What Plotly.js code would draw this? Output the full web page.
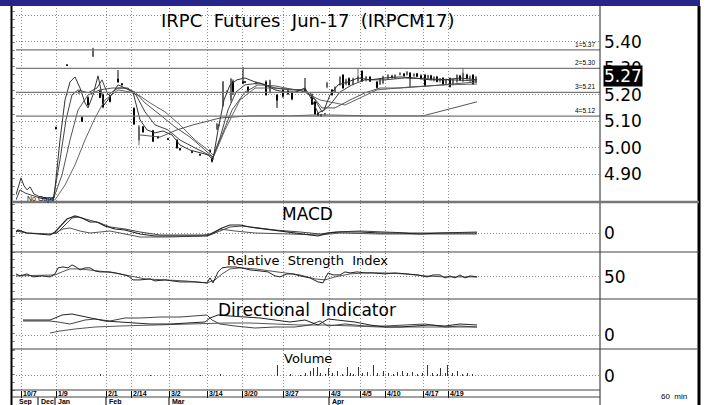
<!DOCTYPE html>
<html><head><meta charset="utf-8">
<script src="https://cdn.plot.ly/plotly-3.0.1.min.js"></script>
<style>html,body{margin:0;padding:0;background:#fff;}#chart{width:707px;height:405px;}</style>
</head><body><div id="chart"></div>
<script>
// ---------- DATA ----------
const chartTitle = 'IRPC  Futures  Jun-17  (IRPCM17)';
const dateTickPos = [2.5, 20, 45, 57.5, 76.5, 95.5, 113, 133.5, 156.5, 172, 184.5, 203.5, 216];
const dateTickText = ['10/7','1/9','2/1','2/14','3/2','3/14','3/20','3/27','4/3','4/5','4/10','4/17','4/19'];
const monthPos = [0, 11, 19.5, 45, 76.5, 156.5];
const monthText = ['Sep','Dec','Jan','Feb','Mar','Apr'];
const priceTicks = [4.9, 5.0, 5.1, 5.2, 5.3, 5.4, 5.5];
const priceTickText = ['4.90','5.00','5.10','5.20','5.30','5.40',''];
const levelValues = [5.37, 5.30, 5.21, 5.12];
const levelLabels = ['1=5.37','2=5.30','3=5.21','4=5.12'];
const lastPrice = 5.27;

const candleX = [20,25.5,31.5,33,36,38.5,42,43.5,47,51,53,59,61.5,63.5,68.5,71,76,80.5,82,88,92,97,98,100.5,101.5,103.5,105.5,107.5,108.5,113.5,114.5,116,120,125,127,130.5,133.5,136,138,141,144.5,148,149.5,151,152.5,154.5,155.5,158,159.5,162,163.5,165,166.5,168.5,171,173,175,177,180.5,182,183.5,186,188,189.5,192,194,195.5,197,199,200.5,202.5,204.5,206,207.5,209,210.5,212,213.5,215,217,218.5,220.5,222,223.5,225.5,227,228.5,230];
const candleOpen = [5.078,5.313,5.213,5.115,5.190,5.345,5.215,5.200,5.198,5.260,5.242,5.150,5.030,5.080,5.065,5.042,5.035,5.030,4.998,4.986,4.976,4.990,4.962,5.070,5.085,5.160,5.212,5.180,5.250,5.250,5.250,5.230,5.242,5.249,5.210,5.200,5.219,5.215,5.210,5.212,5.222,5.200,5.174,5.130,5.125,5.128,5.230,5.219,5.210,5.238,5.275,5.240,5.262,5.240,5.252,5.290,5.255,5.268,5.249,5.240,5.245,5.262,5.270,5.262,5.276,5.280,5.276,5.283,5.272,5.280,5.272,5.275,5.262,5.272,5.256,5.268,5.252,5.264,5.242,5.262,5.240,5.250,5.272,5.252,5.275,5.262,5.275,5.248];
const candleHigh = [5.080,5.316,5.215,5.120,5.195,5.378,5.220,5.205,5.200,5.294,5.245,5.152,5.087,5.082,5.068,5.045,5.038,5.032,5.000,4.988,4.978,4.995,4.965,5.095,5.090,5.252,5.218,5.264,5.258,5.306,5.252,5.232,5.250,5.255,5.257,5.202,5.222,5.218,5.212,5.222,5.264,5.205,5.176,5.132,5.127,5.132,5.250,5.222,5.232,5.270,5.278,5.262,5.266,5.265,5.302,5.292,5.272,5.270,5.252,5.262,5.272,5.278,5.276,5.278,5.285,5.282,5.290,5.285,5.282,5.283,5.278,5.278,5.276,5.276,5.270,5.272,5.264,5.266,5.262,5.266,5.262,5.278,5.276,5.302,5.280,5.274,5.278,5.272];
const candleLow = [5.070,5.310,5.205,5.098,5.160,5.343,5.188,5.150,5.172,5.245,5.236,5.087,5.010,5.058,5.022,5.036,5.030,4.998,4.990,4.980,4.970,4.983,4.945,5.068,5.080,5.155,5.205,5.170,5.200,5.240,5.245,5.211,5.238,5.198,5.205,5.151,5.189,5.200,5.180,5.210,5.211,5.162,5.125,5.120,5.118,5.120,5.225,5.198,5.208,5.235,5.224,5.236,5.236,5.236,5.248,5.250,5.250,5.249,5.224,5.238,5.240,5.260,5.262,5.260,5.274,5.270,5.274,5.230,5.268,5.268,5.258,5.230,5.258,5.255,5.250,5.248,5.246,5.236,5.238,5.228,5.236,5.245,5.252,5.248,5.258,5.246,5.238,5.244];
const candleClose = [5.072,5.312,5.208,5.100,5.162,5.375,5.190,5.155,5.175,5.250,5.238,5.090,5.080,5.060,5.025,5.038,5.032,5.000,4.993,4.984,4.974,4.985,4.950,5.090,5.087,5.250,5.215,5.260,5.210,5.245,5.248,5.214,5.248,5.200,5.255,5.180,5.195,5.205,5.185,5.220,5.215,5.165,5.128,5.122,5.120,5.130,5.245,5.200,5.230,5.268,5.226,5.258,5.238,5.262,5.270,5.252,5.268,5.252,5.228,5.258,5.270,5.275,5.265,5.275,5.283,5.272,5.287,5.262,5.278,5.270,5.262,5.235,5.274,5.258,5.268,5.250,5.262,5.240,5.258,5.232,5.258,5.275,5.256,5.282,5.262,5.270,5.242,5.268];

const maFastX = [0,1.5,2.5,4,5.5,7,9,12,16,19,22,24.5,27,29.5,32,34.5,36,38.5,41,42.5,44,47,51,54.5,58.5,62,65.5,69.5,73.5,78,82,87,92,96,98.5,101,104,107,110.5,114.5,119.5,124.5,129.5,134.5,139.5,144.5,148,151,154,157,161,166,171,177,184.5,192,199.5,207,214.5,222,230.5];
const maFastY = [4.823,4.860,4.887,4.857,4.842,4.853,4.826,4.815,4.811,4.811,5.030,5.181,5.249,5.268,5.226,5.170,5.151,5.200,5.272,5.219,5.162,5.192,5.238,5.226,5.211,5.106,5.068,5.057,5.064,5.049,5.011,4.992,4.981,4.974,4.955,5.068,5.181,5.238,5.257,5.264,5.249,5.238,5.219,5.211,5.211,5.226,5.181,5.132,5.143,5.200,5.238,5.249,5.264,5.257,5.264,5.268,5.264,5.257,5.257,5.264,5.257];
const maMidX = [0,2,4.5,7,12,18.5,22,25,28,31,36,40.5,43,46,51,56,60,64.5,69.5,76,82,89.5,94.5,98.5,102,106,110,114.5,122,129.5,137,144.5,149.5,153,157,162,168,174.5,184.5,194.5,207,219.5,230.5];
const maMidY = [4.804,4.842,4.830,4.823,4.811,4.804,4.955,5.106,5.200,5.219,5.208,5.226,5.257,5.200,5.226,5.226,5.200,5.136,5.087,5.068,5.030,5.000,4.981,4.966,5.038,5.143,5.211,5.238,5.245,5.226,5.219,5.219,5.181,5.136,5.162,5.211,5.238,5.257,5.257,5.264,5.260,5.257,5.253];
const maSlowX = [18.5,23,27,31,36,42,48,54.5,59.5,64.5,72,79.5,87,94.5,98.5,103,108,114.5,121,129.5,139.5,147,153,159.5,167,174.5,182,192,207,219.5,230.5];
const maSlowY = [4.804,4.898,5.030,5.143,5.200,5.219,5.226,5.226,5.211,5.170,5.125,5.079,5.041,4.992,4.966,5.049,5.143,5.211,5.238,5.234,5.219,5.208,5.151,5.151,5.181,5.208,5.226,5.226,5.234,5.241,5.249];
const maLongX = [19.5,24.5,29.5,34.5,39.5,44.5,51,57,62,67,74.5,82,89.5,96,99,104.5,112,119.5,129.5,142,152,164.5,180.5,197,214.5,230.5];
const maLongY = [4.804,4.860,4.936,5.030,5.113,5.181,5.219,5.211,5.196,5.170,5.136,5.087,5.030,4.992,4.970,5.068,5.181,5.226,5.226,5.219,5.181,5.162,5.219,5.230,5.238,5.241];
const maTrendX = [62,72,80.5,88.5,102,117,137,152,177,203.5,230.5];
const maTrendY = [5.049,5.041,5.068,5.087,5.113,5.121,5.121,5.125,5.121,5.121,5.174];

const macdX = [0,1,5.5,12,17,19.5,23,25.5,29.5,33,37,40.5,44.5,49.5,54.5,62,69.5,77,87,95.5,99.5,103,107,112,117,124.5,133.5,142,151,156,162,172,182,192,202,212,222,230.5];
const macdY = [0.002,0.006,0.000,-0.002,-0.004,0.002,0.018,0.028,0.034,0.030,0.022,0.022,0.014,0.008,0.006,-0.002,-0.006,-0.006,-0.006,-0.006,0.002,0.010,0.016,0.016,0.012,0.008,0.002,-0.002,-0.006,0.000,0.002,0.002,0.000,0.000,-0.002,0.000,0.000,0.000];
const signalX = [0,5.5,17,20.5,24.5,28,31,36,42,47,54.5,62,72,87,97,102,107,113,121,129.5,142,152,159.5,172,184.5,197,212,230.5];
const signalY = [0.004,0.000,-0.002,0.000,0.016,0.030,0.032,0.026,0.020,0.012,0.008,0.002,-0.004,-0.004,-0.004,0.004,0.012,0.014,0.010,0.006,0.002,-0.002,0.002,0.004,0.002,0.000,0.000,0.002];
const histX = [19.5,23.5,27,32,37,47,54.5,62,77,92,97,102,109.5,119.5,137,152,162,182,202,230.5];
const histY = [0.000,0.008,0.010,0.004,0.000,0.004,-0.002,-0.008,-0.008,-0.006,-0.002,0.008,0.004,0.000,-0.002,-0.004,0.000,-0.002,-0.002,-0.002];

const rsiX = [0,2,5.5,8.5,13,17,19.5,21,23.5,26,28,30,32,34.5,37,39.5,42,47,52,56,58.5,62,67,69.5,74.5,82,89.5,95.5,97,98.5,101,103,106,109.5,113,117,122,126,129.5,132,135.5,138.5,142,147,151,153.5,156,158.5,162,164.5,167,170.5,174.5,178.5,184.5,189.5,195.5,201,205.5,208.5,212,214.5,217,219.5,222,224.5,227,230.5];
const rsiY = [56.5,52.2,56.5,50.0,52.2,50.0,56.5,69.6,71.7,69.6,76.1,71.7,65.2,69.6,69.6,63.0,60.9,60.9,56.5,52.2,43.5,43.5,45.7,41.3,43.5,39.1,39.1,37.0,47.8,37.0,60.9,69.6,71.7,71.7,69.6,65.2,63.0,60.9,52.2,50.0,56.5,56.5,52.2,47.8,39.1,37.0,58.7,54.3,54.3,60.9,58.7,60.9,58.7,58.7,56.5,58.7,56.5,54.3,50.0,54.3,54.3,47.8,52.2,47.8,54.3,47.8,52.2,50.0];
const rsiAvgX = [0,19.5,23,27,32,37,42,49.5,57,64.5,74.5,84.5,95.5,99.5,103,107,112,119.5,127,134.5,142,149.5,154.5,159.5,167,174.5,184.5,194.5,204.5,214.5,230.5];
const rsiAvgY = [52.2,54.3,60.9,67.4,67.4,65.2,63.0,58.7,52.2,45.7,43.5,41.3,37.0,43.5,56.5,67.4,69.6,67.4,63.0,58.7,54.3,45.7,43.5,50.0,56.5,58.7,58.7,56.5,52.2,50.0,50.0];

const diPlusX = [3.5,17,19.5,23,28,34.5,39.5,44.5,52,59.5,67,77,87,94.5,97,101,107,114.5,122,129.5,137,144.5,151,156,162,169.5,177,184.5,192,199.5,207,214.5,222,230.5];
const diPlusY = [22.5,22.5,25.5,30,31.5,27,24,21,19.5,18,16.5,16.5,18,19.5,25.5,30,28.5,27,25.5,22.5,19.5,22.5,15,24,22.5,19.5,15,12,12,13.5,15,13.5,16.5,15];
const diMinusX = [3.5,17,21,27,34.5,39.5,47,54.5,62,72,82,92,95.5,98,102,109.5,119.5,129.5,139.5,147,152,156,164.5,174.5,184.5,194.5,204.5,214.5,222,230.5];
const diMinusY = [21,21,19.5,16.5,22.5,24,21,25.5,25.5,27,27,28.5,30,22.5,16.5,13.5,10.5,12,12,15,21,13.5,16.5,13.5,13.5,15,16.5,12,13.5,12];
const adxX = [17,22,29.5,39.5,52,67,82,95.5,104.5,117,129.5,142,154.5,167,182,197,212,230.5];
const adxY = [3,6,9,12,13.5,15,16.5,18,18,18,16.5,15,15,13.5,12,12,12,12];

const volX = [42,67,92,102,130.5,137,142,144.5,147,148.5,150.5,152,154.5,156,158,160.5,163,165.5,167,168.5,171,173,175.5,178.5,180.5,183.5,186,188.5,190.5,193,195.5,198,200.5,203,205.5,208,210.5,212,214.5,215.5,218,220.5,223,225.5,228];
const volY = [200,100,100,200,1000,200,100,300,500,700,800,300,200,700,300,500,200,800,300,200,800,300,400,1000,300,500,300,200,400,500,300,400,200,300,1000,300,200,700,300,1000,300,500,200,300,200];

// ---------- GEOMETRY (page layout only) ----------
const W = 707, H = 405, ML = 16, MR = 107, MT = 8, MB = 15;
const PW = W - ML - MR, PH = H - MT - MB;
const px = x => (x - ML) / PW;          // pixel -> paper x
const py = y => (H - MB - y) / PH;      // pixel -> paper y
const FONT = 'DejaVu Sans';

function line(x, y, color, width, ya) {
  return {type: 'scatter', mode: 'lines', x: x, y: y, xaxis: 'x', yaxis: ya || 'y',
          line: {color: color, width: width || 1}, hoverinfo: 'skip', showlegend: false};
}

const traces = [
  line(maTrendX, maTrendY, '#555', 1),
  line(maLongX, maLongY, '#666', 1),
  line(maSlowX, maSlowY, '#555', 1),
  line(maMidX, maMidY, '#444', 1),
  line(maFastX, maFastY, '#333', 1),
  {type: 'candlestick', x: candleX, open: candleOpen, high: candleHigh, low: candleLow, close: candleClose,
   xaxis: 'x', yaxis: 'y', whiskerwidth: 0, showlegend: false, hoverinfo: 'skip',
   increasing: {line: {color: '#666', width: 1}, fillcolor: '#999'},
   decreasing: {line: {color: '#000', width: 1}, fillcolor: '#000'}},
  line(histX, histY, '#555', 1, 'y2'),
  line(signalX, signalY, '#444', 1, 'y2'),
  line(macdX, macdY, '#222', 1.2, 'y2'),
  line(rsiAvgX, rsiAvgY, '#555', 1, 'y3'),
  line(rsiX, rsiY, '#222', 1, 'y3'),
  line(adxX, adxY, '#555', 1, 'y4'),
  line(diMinusX, diMinusY, '#444', 1, 'y4'),
  line(diPlusX, diPlusY, '#222', 1, 'y4'),
  {type: 'bar', x: volX, y: volY, xaxis: 'x', yaxis: 'y5', width: 0.5,
   marker: {color: '#333', line: {width: 0}}, hoverinfo: 'skip', showlegend: false}
];

const grid = {showgrid: true, gridcolor: '#8c8c8c', griddash: '1px,2px', gridwidth: 1, zeroline: false, showline: false};
const rightAxis = (domain, range, tv, tt) => Object.assign({
  domain: domain, range: range, side: 'right', anchor: 'x', fixedrange: true,
  tickmode: 'array', tickvals: tv, ticktext: tt, ticks: '', ticklabelstandoff: 3,
  tickfont: {family: FONT, size: 17, color: '#000'}
}, grid);
// small tick marks along the left edge of each panel
const leftTicks = (over, range, dt) => ({
  overlaying: over, side: 'left', anchor: 'x', range: range, fixedrange: true,
  showgrid: false, zeroline: false, showline: false, showticklabels: false,
  ticks: 'outside', ticklen: 3, tickwidth: 1, tickcolor: '#8a8a8a', dtick: dt, tick0: range[0]
});

const annotations = [];
const shapes = [];
function ann(o) { annotations.push(Object.assign({showarrow: false, font: {family: FONT, size: 17, color: '#000'}}, o)); }

ann({text: chartTitle, xref: 'paper', yref: 'paper', x: px(307.5), y: py(20), xanchor: 'center', yanchor: 'middle', font: {family: FONT, size: 18, color: '#000'}});
ann({text: 'MACD', xref: 'paper', yref: 'paper', x: px(307), y: py(214), xanchor: 'center', yanchor: 'middle'});
ann({text: 'Relative  Strength  Index', xref: 'paper', yref: 'paper', x: px(307), y: py(260), xanchor: 'center', yanchor: 'middle', font: {family: FONT, size: 13, color: '#000'}});
ann({text: 'Directional  Indicator', xref: 'paper', yref: 'paper', x: px(307), y: py(310), xanchor: 'center', yanchor: 'middle'});
ann({text: 'Volume', xref: 'paper', yref: 'paper', x: px(307.5), y: py(358), xanchor: 'center', yanchor: 'middle', font: {family: FONT, size: 13, color: '#000'}});
ann({text: 'No Gaps', xref: 'paper', yref: 'paper', x: px(25), y: py(199), xanchor: 'left', yanchor: 'middle', font: {family: 'Liberation Sans', size: 7, color: '#000'}});
ann({text: '60  min', xref: 'paper', yref: 'paper', x: px(674), y: py(396), xanchor: 'center', yanchor: 'middle', font: {family: 'Liberation Sans', size: 8, color: '#000'}});
ann({text: lastPrice.toFixed(2), xref: 'paper', yref: 'y', x: px(603), y: lastPrice, xanchor: 'left', yanchor: 'middle',
     bgcolor: '#000', borderpad: 0, font: {family: FONT, size: 17, color: '#fff'}});

levelValues.forEach((v, i) => {
  shapes.push({type: 'line', xref: 'paper', yref: 'y', x0: 0, x1: 1, y0: v, y1: v, line: {color: '#777', width: 1.3}});
  ann({text: levelLabels[i], xref: 'paper', yref: 'y', x: px(597), y: v, xanchor: 'right', yanchor: 'bottom', yshift: 0,
       font: {family: 'Liberation Sans', size: 6.5, color: '#000'}});
});

dateTickPos.forEach((p, i) => {
  ann({text: '<b>' + dateTickText[i] + '</b>', xref: 'x', yref: 'paper', x: p, y: py(394), xanchor: 'left', yanchor: 'middle', xshift: 0,
       font: {family: 'Liberation Sans', size: 7, color: '#000'}});
});
monthPos.forEach((p, i) => {
  ann({text: '<b>' + monthText[i] + '</b>', xref: 'x', yref: 'paper', x: p, y: py(401.5), xanchor: 'left', yanchor: 'middle', xshift: 1,
       font: {family: 'Liberation Sans', size: 7, color: '#000'}});
  if (i > 0) shapes.push({type: 'line', xref: 'x', yref: 'paper', x0: p, x1: p, y0: py(397), y1: py(405), line: {color: '#000', width: 1}});
});

// frame
shapes.push({type: 'rect', xref: 'paper', yref: 'paper', x0: px(0), x1: px(700), y0: py(6), y1: py(0), fillcolor: '#26268a', line: {width: 0}});
shapes.push({type: 'line', xref: 'paper', yref: 'paper', x0: px(11.5), x1: px(11.5), y0: py(6), y1: py(405), line: {color: '#000', width: 2}});
shapes.push({type: 'line', xref: 'paper', yref: 'paper', x0: px(600), x1: px(600), y0: py(6), y1: py(405), line: {color: '#222', width: 1}});
shapes.push({type: 'line', xref: 'paper', yref: 'paper', x0: px(699), x1: px(699), y0: py(6), y1: py(405), line: {color: '#000', width: 3}});
shapes.push({type: 'line', xref: 'paper', yref: 'paper', x0: px(12), x1: px(699), y0: py(202), y1: py(202), line: {color: '#777', width: 2.5}});
[252, 299, 349].forEach(y => shapes.push({type: 'line', xref: 'paper', yref: 'paper', x0: px(12), x1: px(699), y0: py(y), y1: py(y), line: {color: '#444', width: 1.2}}));
[390, 397].forEach(y => shapes.push({type: 'line', xref: 'paper', yref: 'paper', x0: px(12), x1: px(600), y0: py(y), y1: py(y), line: {color: '#444', width: 1.2}}));

const layout = {
  width: W, height: H, margin: {l: ML, r: MR, t: MT, b: MB, pad: 0},
  paper_bgcolor: '#fff', plot_bgcolor: '#fff', showlegend: false, hovermode: false, bargap: 0,
  xaxis: Object.assign({domain: [0, 1], range: [0, 292], anchor: 'y5', fixedrange: true,
    tickmode: 'array', tickvals: dateTickPos, ticktext: dateTickText, showticklabels: false,
    ticks: 'outside', ticklen: 7, tickcolor: '#000', tickwidth: 1,
    rangeslider: {visible: false}}, grid),
  yaxis: rightAxis([py(202), 1], [4.796, 5.528], priceTicks, priceTickText),
  yaxis2: rightAxis([py(252), py(203)], [-0.038, 0.06], [0], ['0']),
  yaxis3: rightAxis([py(299), py(253)], [2, 102], [50], ['50']),
  yaxis4: rightAxis([py(349), py(300)], [-21, 52.5], [0], ['0']),
  yaxis5: rightAxis([0, py(350)], [-1400, 2500], [0], ['0']),
  yaxis6: leftTicks('y', [4.796, 5.528], 0.03),
  yaxis7: leftTicks('y2', [-0.038, 0.06], 0.016),
  yaxis8: leftTicks('y3', [2, 102], 17),
  yaxis9: leftTicks('y4', [-21, 52.5], 12),
  yaxis10: leftTicks('y5', [-1400, 2500], 780),
  annotations: annotations, shapes: shapes
};
// invisible helper traces so the left tick axes are drawn
[6, 7, 8, 9, 10].forEach(n => traces.push({type: 'scatter', mode: 'markers', x: [], y: [], xaxis: 'x', yaxis: 'y' + n,
  hoverinfo: 'skip', showlegend: false}));

Plotly.newPlot('chart', traces, layout, {staticPlot: true, displayModeBar: false});
</script></body></html>
